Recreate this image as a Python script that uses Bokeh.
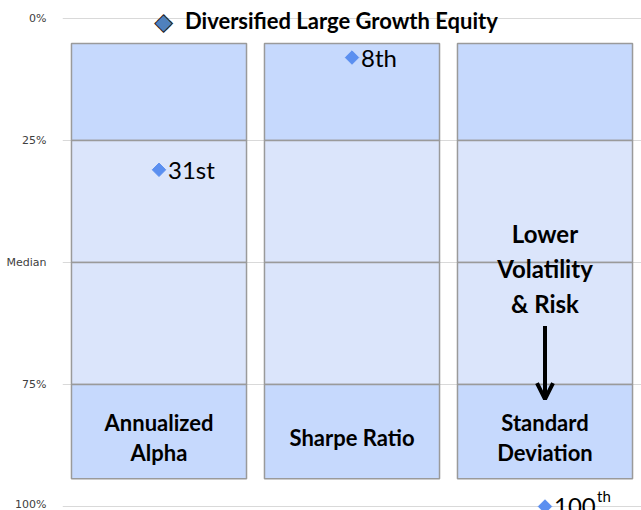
import numpy as np
from bokeh.plotting import figure
from bokeh.models import (ColumnDataSource, Range1d, FixedTicker, Legend, LegendItem,
                          Arrow, OpenHead, Label)
from bokeh.core.properties import value
from bokeh.embed import file_html
from bokeh.resources import INLINE

# ---- data ----
categories = ["Annualized\nAlpha", "Sharpe Ratio", "Standard\nDeviation"]
band_edges = [5.1, 25, 50, 75, 94.3]          # quartile bands drawn in each column
band_colors = ["#c6d9fd", "#dbe5fb", "#dbe5fb", "#c6d9fd"]
percentiles = [31, 8, 100]                     # fund rank (percentile) per metric
rank_labels = ["31st", "8th", "100"]
rank_sups = ["", "", "th"]
tick_values = [0, 25, 50, 75, 100]
tick_labels = ["0%", "25%", "Median", "75%", "100%"]
series_name = "Diversified Large Growth Equity"
note_text = "Lower\nVolatility\n& Risk"

FONT = "Lato"
xpos = np.arange(len(categories)) + 0.5

p = figure(width=641, height=510, output_backend="svg", toolbar_location=None,
           x_range=Range1d(0, len(categories)), y_range=Range1d(100.82, -3.69),
           x_axis_location=None, min_border_left=62, min_border_right=0,
           min_border_top=0, min_border_bottom=0)
p.outline_line_color = None
p.xgrid.visible = False
p.ygrid.grid_line_color = "#d9d9d9"
p.ygrid.grid_line_width = 1
p.ygrid.ticker = FixedTicker(ticks=tick_values)

ax = p.yaxis[0]
ax.ticker = FixedTicker(ticks=tick_values)
ax.major_label_overrides = {v: l for v, l in zip(tick_values, tick_labels)}
ax.axis_line_color = None
ax.major_tick_line_color = None
ax.minor_tick_line_color = None
ax.major_tick_out = 0
ax.major_tick_in = 0
ax.major_label_standoff = 16
ax.major_label_text_font = "DejaVu Sans"
ax.major_label_text_font_size = "11px"
ax.major_label_text_color = "#404040"

# stacked quartile bands
for i in range(len(band_colors)):
    src = ColumnDataSource(dict(x=xpos, top=[band_edges[i]] * len(xpos),
                                bottom=[band_edges[i + 1]] * len(xpos)))
    p.vbar(x="x", top="top", bottom="bottom", width=0.907, source=src,
           fill_color=band_colors[i], line_color="#9a9a9a", line_width=1.5)

# category labels inside bottom band
lab_src = ColumnDataSource(dict(x=xpos, y=[85.8] * len(xpos), t=categories))
p.text(x="x", y="y", text="t", source=lab_src, text_align="center",
       text_baseline="middle", text_font=value(FONT), text_font_style="bold",
       text_font_size="22px", text_line_height=1.1, text_color="#000000")

# percentile markers
msrc = ColumnDataSource(dict(x=xpos, y=percentiles, lab=rank_labels, sup=rank_sups))
p.scatter(x="x", y="y", source=msrc, marker="square", angle=np.pi / 4, size=9.5,
          fill_color="#5b8ff0", line_color="#5b8ff0")
p.text(x="x", y="y", text="lab", source=msrc, x_offset=9, text_baseline="middle",
       text_font=value(FONT), text_font_size="24px", text_color="#000000")
p.text(x="x", y="y", text="sup", source=msrc, x_offset=52, y_offset=-10,
       text_baseline="middle", text_font=value(FONT), text_font_size="15px",
       text_color="#000000")

# annotation
nsrc = ColumnDataSource(dict(x=[xpos[2]], y=[51.2], t=[note_text]))
p.text(x="x", y="y", text="t", source=nsrc, text_align="center",
       text_baseline="middle", text_font=value(FONT), text_font_style="bold",
       text_font_size="24px", text_line_height=1.2, text_color="#000000")
p.add_layout(Arrow(x_start=xpos[2], y_start=63.0, x_end=xpos[2], y_end=78.0,
                   line_width=4, line_color="black",
                   end=OpenHead(size=16, line_width=4, line_color="black")))

# legend entry: text via Legend, square diamond symbol drawn as outlined glyph
leg_r = p.scatter(x=[np.nan], y=[np.nan], marker="diamond",
                  fill_alpha=0, line_alpha=0)
legend = Legend(items=[LegendItem(label=series_name, renderers=[leg_r])],
                location=(80, 468), padding=0, margin=0, spacing=0,
                glyph_width=43, glyph_height=44, label_standoff=0,
                label_text_font=FONT, label_text_font_style="bold",
                label_text_font_size="22px", label_text_color="#000000",
                border_line_color=None, background_fill_alpha=0)
p.add_layout(legend)
for fs, col in (("25px", "#1f1f1f"), ("21px", "#4f81bd")):
    p.add_layout(Label(x=101, y=489, x_units="screen", y_units="screen", text="\u25c6",
                       text_font="DejaVu Sans", text_font_size=fs, text_color=col,
                       text_align="center", text_baseline="middle"))

open("out.html", "w").write(file_html(p, INLINE))
